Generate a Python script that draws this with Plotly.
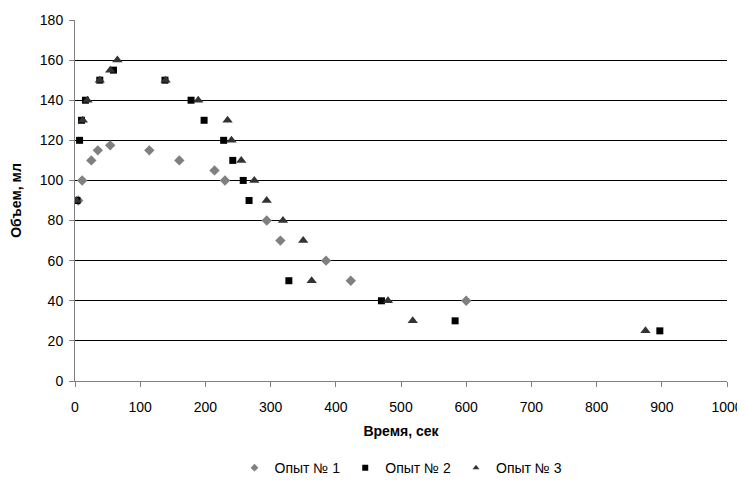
import plotly.graph_objects as go

# Опыт № 1
x1 = [5, 11, 25, 35, 54, 114, 160, 214, 230, 294, 315, 385, 423, 600]
y1 = [90, 100, 110, 115, 117.5, 115, 110, 105, 100, 80, 70, 60, 50, 40]
# Опыт № 2
x2 = [3, 7, 10, 16, 38, 59, 138, 178, 198, 228, 242, 258, 267, 328, 470, 583, 897]
y2 = [90, 120, 130, 140, 150, 155, 150, 140, 130, 120, 110, 100, 90, 50, 40, 30, 25]
# Опыт № 3
x3 = [2, 12, 19, 38, 54, 65, 139, 189, 234, 240, 255, 275, 294, 319, 350, 363, 480, 518, 875]
y3 = [90, 130, 140, 150, 155, 160, 150, 140, 130, 120, 110, 100, 90, 80, 70, 50, 40, 30, 25]

names = ["Опыт № 1", "Опыт № 2", "Опыт № 3"]
x_ticks = [0, 100, 200, 300, 400, 500, 600, 700, 800, 900, 1000]
y_ticks = [0, 20, 40, 60, 80, 100, 120, 140, 160, 180]

FONT = "Liberation Sans, Arial, sans-serif"
symbols = ["diamond", "square", "triangle-up"]
colors = ["#808080", "#000000", "#333333"]
sizes = [8, 7, 9]

fig = go.Figure()
for xs, ys, nm, sym, col, sz in zip([x1, x2, x3], [y1, y2, y3], names, symbols, colors, sizes):
    fig.add_trace(go.Scatter(x=xs, y=ys, mode="markers", name=nm, showlegend=False,
                             marker=dict(symbol=sym, size=sz, color=col)))
# legend entries with small markers
for nm, sym, col in zip(names, symbols, colors):
    fig.add_trace(go.Scatter(x=[None], y=[None], mode="markers", name=nm, showlegend=True,
                             marker=dict(symbol=sym, size=6, color=col)))

fig.update_layout(
    width=737, height=474,
    margin=dict(l=67, r=18, t=12, b=101, autoexpand=False),
    plot_bgcolor="white", paper_bgcolor="white",
    font=dict(family=FONT, size=14, color="#000000"),
    showlegend=True,
    legend=dict(orientation="h", x=0.5, xanchor="center", y=-0.197, yanchor="top",
                font=dict(size=14), itemwidth=30, tracegroupgap=0),
    xaxis=dict(range=[0, 1000], tickvals=x_ticks, showgrid=False, zeroline=False,
               automargin=False, ticklabelstandoff=8, ticklabeloverflow="allow",
               showline=True, linecolor="#808080", linewidth=1,
               ticks="outside", ticklen=5, tickcolor="#808080",
               title=dict(text="<b>Время, сек</b>", font=dict(size=14), standoff=12)),
    yaxis=dict(range=[0, 180], tickvals=y_ticks, showgrid=True, gridcolor="#000000",
               gridwidth=1, zeroline=False, automargin=False, ticklabelstandoff=3,
               ticklabeloverflow="allow",
               showline=True, linecolor="#808080", linewidth=1,
               ticks="outside", ticklen=5, tickcolor="#808080",
               title=dict(text="<b>Объем, мл</b>", font=dict(size=14), standoff=16)),
)

fig.write_html("out.html")
